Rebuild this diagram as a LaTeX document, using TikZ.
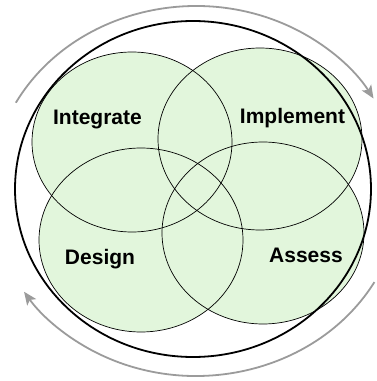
\documentclass[tikz,border=0pt]{standalone}
\usepackage{fontspec}
\setmainfont{Liberation Sans}
\usetikzlibrary{arrows.meta}

\definecolor{petalgreen}{RGB}{226,246,220}
\definecolor{cyclegray}{RGB}{155,155,155}

\tikzset{
  petal label/.style={anchor=base,inner sep=0pt,font=\bfseries\fontsize{21}{25}\selectfont},
  cycle arrow/.style={draw=cyclegray,line width=1.8pt,-{Stealth[length=13pt,width=11pt,inset=3pt]}},
}

% one petal: centre x, centre y, x radius, y radius
\NewDocumentCommand{\petalfill}{mmmm}{%
\fill[petalgreen] (#1,#2) ellipse[x radius=#3,y radius=#4];%
}
\NewDocumentCommand{\petaledge}{mmmm}{%
\draw[line width=0.7pt] (#1,#2) ellipse[x radius=#3,y radius=#4];%
}

\begin{document}
\begin{tikzpicture}[x=1pt,y=1pt]
            \useasboundingbox (0,0) rectangle (377,381);

            % Petals, filled first, edges on top.
            \foreach \cx/\cy/\rx/\ry in {132/239/100/90,260/242/102/91,141/141/102/92,263/148/101/91}
                {\petalfill{\cx}{\cy}{\rx}{\ry}}
            \foreach \cx/\cy/\rx/\ry in {132/239/100/90,260/242/102/91,141/141/102/92,263/148/101/91}
                {\petaledge{\cx}{\cy}{\rx}{\ry}}

            % Outer ring.
            \draw[line width=1.8pt] (193,192) ellipse[x radius=178,y radius=168];

            \node[petal label] (integrate) at (97.5,256) {Integrate};
            \node[petal label] (implement) at (292.5,257) {Implement};
            \node[petal label] (design) at (100,116) {Design};
            \node[petal label] (assess) at (306,118) {Assess};

            % Cycle arrows round the ring.
            \coordinate (hub) at (196,190);
            \draw[cycle arrow] (hub) ++(151.5:205 and 185)
                arc[start angle=151.5,end angle=30,x radius=205,y radius=185];
            \draw[cycle arrow] (hub) ++(-29.5:205 and 185)
                arc[start angle=-29.5,end angle=-147,x radius=205,y radius=185];
        \end{tikzpicture}
\end{document}
